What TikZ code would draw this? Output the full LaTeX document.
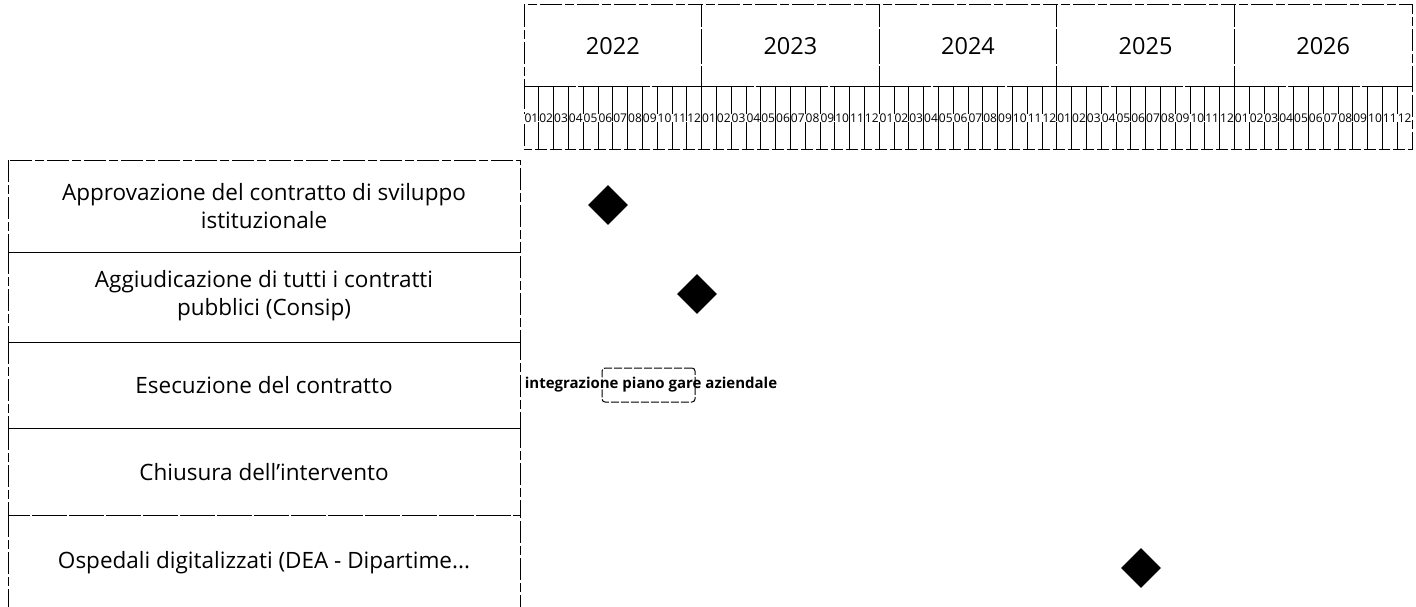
\documentclass[tikz,border=0pt]{standalone}
\usepackage{fontspec}
\setmainfont{Open Sans}
\usetikzlibrary{shapes.geometric}
\begin{document}
\begin{tikzpicture}[x=1pt,y=-1pt,
  grid/.style={draw=black, line width=1pt, dash pattern=on 22pt off 3pt on 9pt off 3pt},
  rowlabel/.style={font=\fontsize{22.5}{28}\selectfont, align=center},
  yearlabel/.style={font=\fontsize{23.5}{26}\selectfont},
  monthlabel/.style={font=\fontsize{12}{13}\selectfont, inner sep=0pt},
  milestone/.style={diamond, fill=black, minimum size=40pt, inner sep=0pt},
  taskbox/.style={draw, line width=1pt, dash pattern=on 8pt off 2pt, rounded corners=3pt, minimum width=93pt, minimum height=34pt, inner sep=0pt},
  tasklabel/.style={font=\bfseries\fontsize{15}{17}\selectfont, inner sep=0pt},
]
\useasboundingbox (0,0) rectangle (1416,607);
% year row
\foreach \i/\yr in {0/2022,1/2023,2/2024,3/2025,4/2026}{
  \draw[grid] ({524+177.6*\i},5) rectangle ({524+177.6*(\i+1)},87);
  \node[yearlabel] (y\yr) at ({524+177.6*(\i+0.5)},46) {\yr};
  \foreach \m [count=\k from 0] in {01,02,03,04,05,06,07,08,09,10,11,12}{
    \draw[grid] ({524+177.6*\i+14.8*\k},87) rectangle ({524+177.6*\i+14.8*(\k+1)},150);
    \node[monthlabel, fill=white, inner xsep=0.3pt] (m\yr\m) at ({524+177.6*\i+14.8*(\k+0.5)},118) {\m};
  }
}
% left table
\draw[grid] (8,160) rectangle (520,252);
\draw[grid] (8,252) rectangle (520,342);
\draw[grid] (8,342) rectangle (520,428);
\draw[grid] (8,428) rectangle (520,515);
\draw[grid] (8,515) -- (520,515) -- (520,607);
\draw[grid] (8,515) -- (8,607);
\node[rowlabel] (r1) at (264,206) {Approvazione del contratto di sviluppo\\istituzionale};
\node[rowlabel] (r2) at (264,296) {Aggiudicazione di tutti i contratti\\pubblici (Consip)};
\node[rowlabel] (r3) at (264,385) {Esecuzione del contratto};
\node[rowlabel] (r4) at (264,472) {Chiusura dell'intervento};
\node[rowlabel] (r5) at (264,563) {Ospedali digitalizzati (DEA - Dipartime...};
% milestones
\node[milestone] (ms1) at (608,205) {};
\node[milestone] (ms2) at (697,294) {};
\node[milestone] (ms3) at (1141,568) {};
% task
\node[taskbox] (bar) at (648.5,385) {};
\node[tasklabel] (task) at (651,385) {integrazione piano gare aziendale};
\end{tikzpicture}
\end{document}
